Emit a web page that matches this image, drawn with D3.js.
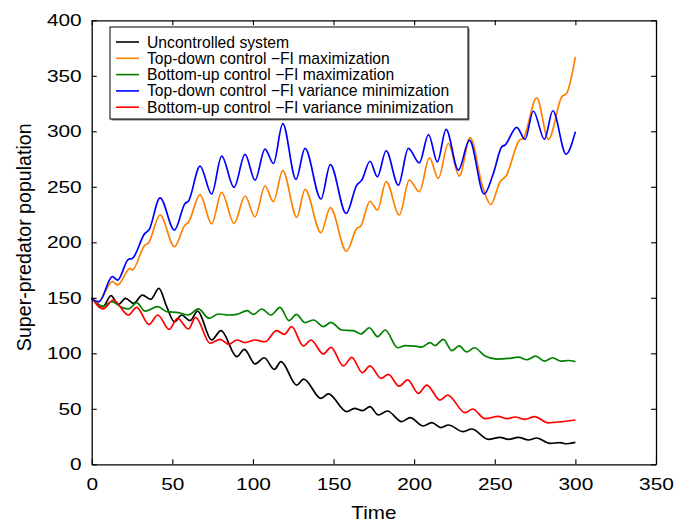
<!DOCTYPE html>
<html>
<head>
<meta charset="utf-8">
<script src="https://cdn.jsdelivr.net/npm/d3@7"></script>
<style>
  html, body { margin: 0; padding: 0; background: #fff; }
  svg text { font-family: "Liberation Sans", Arial, Helvetica, sans-serif; fill: #000; }
</style>
</head>
<body>
<svg id="chart" width="686" height="526"></svg>
<script>
// ---- data (time, super-predator population) ----
const xTicks = [0, 50, 100, 150, 200, 250, 300, 350];
const yTicks = [0, 50, 100, 150, 200, 250, 300, 350, 400];

const uncontrolled = [[0,150],[7,142],[12,152],[16.5,144],[21,149.5],[26,145],[31.4,152.5],[36.6,148.6],[41.7,158.5],[46.5,142],[51.3,128.4],[55.8,134.5],[61,129.4],[65.7,138],[74.4,112],[80.2,120.4],[90,97],[94.7,103.6],[101.3,90.4],[107,96],[113.3,85.5],[117.4,92.5],[127.2,71.4],[131.5,76.8],[142.2,59.4],[146.8,63.4],[158.2,47.4],[163,50.4],[168,48.3],[172.6,51.9],[177.8,44.4],[183.4,48],[192.3,38.4],[197.5,42],[205.7,34.5],[210.9,37.5],[216.7,33],[221.2,35.4],[230.5,29.4],[235.7,31.8],[246,22.5],[253.3,24.3],[258.5,22.5],[264.7,24.3],[270.9,21.9],[276,23.7],[284.3,18.9],[290.5,19.5],[294.5,18.5],[300,19.8]];

const topDownFI = [[0,150],[4,146],[12.8,164.5],[16.1,161.5],[23.8,176.5],[25.2,175],[33,197.5],[35,199],[42.4,224.6],[51.3,196],[57.9,215.6],[60,218],[67.2,243],[74.4,216.5],[80.6,245],[88.3,217],[95.1,241.7],[101.3,223],[107.5,250.7],[112.7,236.6],[118.5,264.6],[127.2,222.5],[132.3,247.7],[142.2,208.7],[148,231.2],[158,192],[164.4,212.5],[167,215],[172.6,237],[177.2,229],[182.6,254.6],[190.8,224.6],[197,256],[203.2,245.6],[209.5,276],[215,257.6],[221.2,289],[228,259.7],[234.7,294.3],[242.5,250],[247.5,234],[253.3,254.6],[257,259.7],[265.3,292],[267.7,293.7],[276,330.2],[283.3,292.8],[291.5,331],[294.6,334.2],[300,367]];

const bottomUpFI = [[0,150],[7,142],[12.4,146.5],[18.6,141.4],[23,140],[27.9,145.6],[33,138],[41,142],[46.5,137.5],[53.8,136.6],[60,134.5],[66.2,140],[72.8,131.5],[78.6,135.4],[85,134.5],[90,135],[96.5,138.4],[100.3,135],[105.4,139.9],[111.2,134.5],[116.8,141.4],[122.4,129.4],[127,135.1],[132.3,127.6],[137.7,130],[143.7,124],[148.4,127.9],[155,121],[162.3,120.4],[167,117.4],[172.2,123],[177.4,115],[182,121],[189.8,105],[194.4,106.9],[200.6,106.5],[204.6,105.5],[209.9,109.6],[213,107],[218.1,112.6],[223.3,102.4],[227.9,106.6],[232.6,101.2],[237.4,105],[244,97.5],[251.2,94.8],[258.5,95.4],[264.7,96.6],[269.8,94.2],[275.4,97.5],[280.8,93],[285.8,96],[291.1,93],[295.5,93.5],[300,92.5]];

const topDownVar = [[0,149],[4.5,146.5],[12.8,169],[16.1,166],[22.7,184.6],[25.2,185.5],[33,208],[35.5,211],[42.4,240],[51.3,211],[57.9,235],[60,237],[67.2,268.7],[74.4,243.5],[80.6,277.7],[88.3,249.5],[95.1,279.2],[101.3,256],[107.5,284],[112.7,271],[118.5,307],[126.7,256.7],[132.3,284.6],[142.2,239],[148,270],[157.8,226],[164.4,251.5],[167.5,256],[172.6,273],[177.2,259],[182.6,282.5],[190.2,251.5],[196.4,284.6],[203.2,271.6],[208.9,297],[214.4,272.5],[219.8,301.8],[227.4,265],[234.3,292],[243.4,243.5],[249.1,262],[254.3,286],[256.4,287.7],[263.6,303.6],[268.8,292.8],[273.9,318.3],[280.8,292.8],[286,318.5],[294.2,279.5],[300,299.7]];

const bottomUpVar = [[0,150],[7.2,140],[13.4,148],[22.7,134.5],[27.9,141.4],[35.5,126],[41,134.5],[48,121.6],[53.3,131.5],[60,121.9],[64.5,132.4],[73.4,109],[79.6,112.6],[85.2,108],[90,112],[95.1,109.6],[101.3,112],[107.5,110.4],[114.7,120.4],[119.5,117],[124,124],[131.3,106.6],[136,112],[143.7,99.4],[148.4,105.4],[156.1,88.6],[161.3,96.4],[167.9,82.5],[172.6,88.6],[179.5,77.4],[184,81],[190.6,70.4],[196,76],[202.6,63.9],[207.8,71.4],[216,57.9],[220.8,62.4],[231.6,46.5],[236.3,49.8],[244,41.1],[252.2,43.2],[257.4,41.1],[262.6,42.6],[268.8,40.5],[274.6,43],[283.3,37.4],[291.5,38.4],[300,39.9]];

const seriesNames = [
  "Uncontrolled system",
  "Top-down control \u2212FI maximization",
  "Bottom-up control \u2212FI maximization",
  "Top-down control \u2212FI variance minimization",
  "Bottom-up control \u2212FI variance minimization"
];
const seriesData = [uncontrolled, topDownFI, bottomUpFI, topDownVar, bottomUpVar];
const seriesColors = ["#000000", "#ff8000", "#008000", "#0000ff", "#ff0000"];

// ---- layout ----
const svg = d3.select("#chart");
const L = 91.7, R = 656, T = 20.3, B = 464.3;
const x = d3.scaleLinear().domain([0, 350]).range([L, R]);
const y = d3.scaleLinear().domain([0, 400]).range([B, T]);

const line = d3.line().x(d => x(d[0])).y(d => y(d[1])).curve(d3.curveMonotoneX);
const order = [0, 2, 4, 1, 3];
order.forEach(i => {
  svg.append("path")
    .datum(seriesData[i])
    .attr("d", line)
    .attr("fill", "none")
    .attr("stroke", seriesColors[i])
    .attr("stroke-width", 1.7)
    .attr("stroke-linejoin", "round");
});

// axes
const fs = 17;
const digitW = 11.6;
const gx = svg.append("g").attr("transform", `translate(0,${B})`)
  .call(d3.axisBottom(x).tickValues(xTicks).tickSizeInner(-5).tickSizeOuter(0).tickPadding(14));
const gxTop = svg.append("g").attr("transform", `translate(0,${T})`)
  .call(d3.axisTop(x).tickValues(xTicks).tickSizeInner(-5).tickSizeOuter(0).tickFormat(""));
const gy = svg.append("g").attr("transform", `translate(${L},0)`)
  .call(d3.axisLeft(y).tickValues(yTicks).tickSizeInner(-5).tickSizeOuter(0).tickPadding(10));
const gyR = svg.append("g").attr("transform", `translate(${R},0)`)
  .call(d3.axisRight(y).tickValues(yTicks).tickSizeInner(-5).tickSizeOuter(0).tickFormat(""));

[gx, gxTop, gy, gyR].forEach(g => {
  g.selectAll("path.domain").attr("stroke", "#000").attr("stroke-width", 1.3);
  g.selectAll(".tick line").attr("stroke", "#000").attr("stroke-width", 1.1);
  g.selectAll(".tick text")
    .style("font-family", '"Liberation Sans", Arial, sans-serif')
    .style("font-size", fs + "px").attr("fill", "#000")
    .each(function() {
      const t = d3.select(this);
      const n = t.text().length;
      if (n > 0) t.attr("textLength", n * digitW).attr("lengthAdjust", "spacingAndGlyphs");
    });
});

// axis titles
svg.append("text")
  .attr("x", (L + R) / 2).attr("y", 519)
  .attr("text-anchor", "middle")
  .style("font-size", "19px")
  .attr("textLength", 45).attr("lengthAdjust", "spacingAndGlyphs")
  .text("Time");
svg.append("text")
  .attr("transform", `translate(31,${(T + B) / 2 - 5}) rotate(-90)`)
  .attr("text-anchor", "middle")
  .style("font-size", "19.6px")
  .text("Super-predator population");

// legend
const lg = svg.append("g");
const lx = 110, ly = 27, lw = 358, lh = 92;
lg.append("rect").attr("x", lx + 1.5).attr("y", ly + 1.5).attr("width", lw).attr("height", lh)
  .attr("fill", "#777");
lg.append("rect").attr("x", lx).attr("y", ly).attr("width", lw).attr("height", lh)
  .attr("fill", "#fff").attr("stroke", "#000").attr("stroke-width", 1);
seriesNames.forEach((name, i) => {
  const cy = 42 + i * 16.3;
  lg.append("line").attr("x1", 116).attr("x2", 139).attr("y1", cy).attr("y2", cy)
    .attr("stroke", seriesColors[i]).attr("stroke-width", 1.6);
  lg.append("text").attr("x", 147).attr("y", cy + 5.5)
    .style("font-size", "15.7px").text(name);
});
</script>
</body>
</html>
